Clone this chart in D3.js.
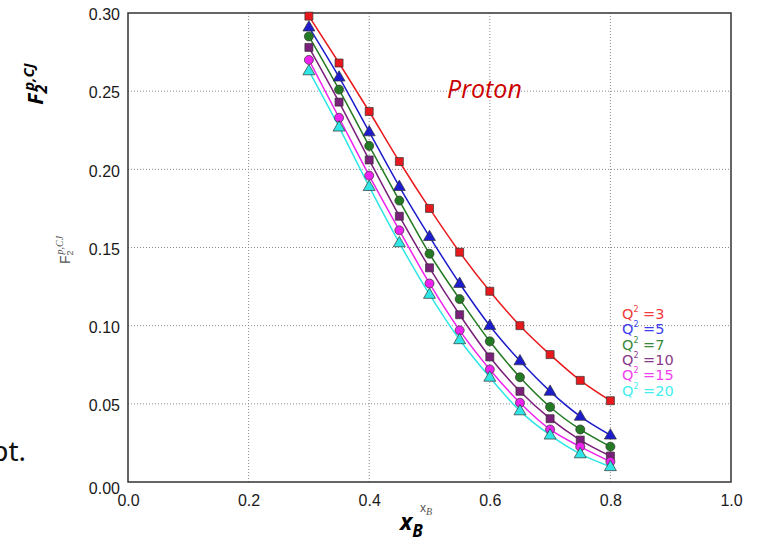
<!DOCTYPE html>
<html>
<head>
<meta charset="utf-8">
<script src="https://cdn.jsdelivr.net/npm/d3@7"></script>
<style>
  html, body { margin: 0; padding: 0; background: #fff; }
  svg { display: block; }
</style>
</head>
<body>
<div id="chart"></div>
<script>
// ---- Data ----
const xValues = [0.30, 0.35, 0.40, 0.45, 0.50, 0.55, 0.60, 0.65, 0.70, 0.75, 0.80];
const q3  = [0.298, 0.268, 0.237, 0.205, 0.175, 0.147, 0.122, 0.100, 0.0815, 0.065, 0.052];
const q5  = [0.291, 0.259, 0.224, 0.189, 0.157, 0.127, 0.100, 0.0775, 0.058, 0.042, 0.030];
const q7  = [0.285, 0.251, 0.215, 0.180, 0.146, 0.117, 0.090, 0.067, 0.048, 0.0336, 0.0226];
const q10 = [0.278, 0.243, 0.206, 0.170, 0.137, 0.107, 0.080, 0.058, 0.0405, 0.0268, 0.0166];
const q15 = [0.270, 0.233, 0.196, 0.161, 0.127, 0.097, 0.072, 0.0507, 0.0336, 0.0226, 0.013];
const q20 = [0.263, 0.227, 0.189, 0.153, 0.120, 0.091, 0.067, 0.0455, 0.030, 0.018, 0.0098];
const seriesLabels = ["3", "5", "7", "10", "15", "20"];
const xTicks = [0.0, 0.2, 0.4, 0.6, 0.8, 1.0];
const yTicks = [0.00, 0.05, 0.10, 0.15, 0.20, 0.25, 0.30];

const seriesValues = [q3, q5, q7, q10, q15, q20];
const colors = ["#e8191c", "#1c1ccc", "#237a23", "#7a1f7a", "#ee22ee", "#2ee6e6"];
const legendColors = ["#f03c3c", "#3c3cee", "#3a8a3a", "#8a3a8a", "#f040f0", "#44eeee"];
const shapes = ["square", "triangle", "circle", "square", "circle", "triangle"];

const W = 759, H = 541;
const plot = {left: 128, right: 731, top: 13, bottom: 482};

const svg = d3.select("#chart").append("svg").attr("width", W).attr("height", H);

const x = d3.scaleLinear().domain([0, 1]).range([plot.left, plot.right]);
const y = d3.scaleLinear().domain([0, 0.30]).range([plot.bottom, plot.top]);

// grid lines (dotted)
const grid = svg.append("g");
grid.selectAll("line.vx").data(xTicks.slice(1, -1)).join("line")
  .attr("x1", d => x(d)).attr("x2", d => x(d))
  .attr("y1", plot.top).attr("y2", plot.bottom)
  .attr("stroke", "#8a8a8a").attr("stroke-width", 1).attr("stroke-dasharray", "1,2");
grid.selectAll("line.hy").data(yTicks.slice(1, -1)).join("line")
  .attr("y1", d => y(d)).attr("y2", d => y(d))
  .attr("x1", plot.left).attr("x2", plot.right)
  .attr("stroke", "#8a8a8a").attr("stroke-width", 1).attr("stroke-dasharray", "1,2");

// axes via d3
const xAxis = d3.axisBottom(x).tickValues(xTicks).tickFormat(d3.format(".1f")).tickSize(0).tickPadding(10);
const yAxis = d3.axisLeft(y).tickValues(yTicks).tickFormat(d3.format(".2f")).tickSize(0).tickPadding(8);

const gx = svg.append("g").attr("transform", `translate(0,${plot.bottom})`).call(xAxis);
const gy = svg.append("g").attr("transform", `translate(${plot.left},0)`).call(yAxis);
[gx, gy].forEach(g => {
  g.select(".domain").remove();
  g.selectAll("text").attr("font-family", "Liberation Sans, Arial, sans-serif")
    .attr("font-size", 16).attr("fill", "#1a1a1a");
});
gx.selectAll("text").attr("dy", "0.88em");
gy.selectAll("text").attr("dy", d => d === 0 ? "0.72em" : "0.42em");

// frame
svg.append("rect").attr("x", plot.left).attr("y", plot.top)
  .attr("width", plot.right - plot.left).attr("height", plot.bottom - plot.top)
  .attr("fill", "none").attr("stroke", "#333").attr("stroke-width", 1.5);

// lines
const line = d3.line().x(d => x(d[0])).y(d => y(d[1])).curve(d3.curveMonotoneX);
seriesValues.forEach((vals, i) => {
  const pts = xValues.map((xv, j) => [xv, vals[j]]);
  svg.append("path").datum(pts).attr("d", line)
    .attr("fill", "none").attr("stroke", colors[i]).attr("stroke-width", 1.5);
});

// markers
const symMap = {square: d3.symbolSquare, triangle: d3.symbolTriangle, circle: d3.symbolCircle};
const symSize = {square: 64, triangle: 62, circle: 64};
seriesValues.forEach((vals, i) => {
  const pts = xValues.map((xv, j) => [xv, vals[j]]);
  const sym = d3.symbol().type(symMap[shapes[i]]).size(symSize[shapes[i]]);
  svg.append("g").selectAll("path").data(pts).join("path")
    .attr("d", sym)
    .attr("transform", d => `translate(${x(d[0])},${y(d[1]) + (shapes[i] === "triangle" ? 0.5 : 0)})`)
    .attr("fill", colors[i]).attr("stroke", "#333").attr("stroke-width", 0.7);
});

// legend
const legend = svg.append("g").attr("font-family", "DejaVu Sans, sans-serif").attr("font-size", 14.5);
seriesLabels.forEach((lab, i) => {
  const t = legend.append("text").attr("x", 622).attr("y", 319 + i * 15.3).attr("fill", legendColors[i]);
  t.append("tspan").text("Q");
  t.append("tspan").text("2").attr("font-size", 8).attr("dy", -7);
  t.append("tspan").text(" =" + lab).attr("dy", 7);
});

// Proton annotation
svg.append("text").attr("x", 447).attr("y", 98).text("Proton")
  .attr("font-family", "Open Sans, sans-serif").attr("font-style", "italic")
  .attr("font-size", 25).attr("fill", "#cc0000");

// small y label (grey, rotated)
const ys = svg.append("text").attr("transform", "translate(70,250) rotate(-90)")
  .attr("text-anchor", "middle").attr("fill", "#555")
  .attr("font-family", "Liberation Sans, Arial, sans-serif").attr("font-size", 14);
ys.append("tspan").text("F");
ys.append("tspan").text("2").attr("font-size", 9).attr("dy", 3);
ys.append("tspan").text("p,CJ").attr("font-size", 10).attr("font-style", "italic")
  .attr("font-family", "Liberation Serif, Times, serif").attr("dy", -10).attr("dx", -4);

// big y label (bold italic, rotated)
const yb = svg.append("text").attr("transform", "translate(43,84) rotate(-90)")
  .attr("text-anchor", "middle").attr("fill", "#000")
  .attr("font-family", "Open Sans, sans-serif").attr("font-weight", "bold")
  .attr("font-style", "italic").attr("font-size", 21);
yb.append("tspan").text("F");
yb.append("tspan").text("2").attr("font-size", 16).attr("dy", 4);
yb.append("tspan").text("p,CJ").attr("font-size", 15).attr("dy", -13).attr("dx", -6);

// small x label
const xs = svg.append("text").attr("x", 420).attr("y", 512).attr("fill", "#555")
  .attr("font-family", "Liberation Sans, Arial, sans-serif").attr("font-size", 12);
xs.append("tspan").text("x");
xs.append("tspan").text("B").attr("font-size", 10).attr("font-style", "italic")
  .attr("font-family", "Liberation Serif, Times, serif").attr("dy", 3);

// big x label
const xb = svg.append("text").attr("x", 400).attr("y", 530).attr("fill", "#000")
  .attr("font-family", "Open Sans, sans-serif").attr("font-weight", "bold")
  .attr("font-style", "italic").attr("font-size", 23);
xb.append("tspan").text("x");
xb.append("tspan").text("B").attr("font-size", 17).attr("dy", 7);

// fragment of slide text at far left
svg.append("text").attr("x", 26).attr("y", 461).attr("text-anchor", "end")
  .attr("font-family", "Noto Sans, sans-serif").attr("font-size", 28).attr("fill", "#111")
  .text("pt.");
</script>
</body>
</html>
